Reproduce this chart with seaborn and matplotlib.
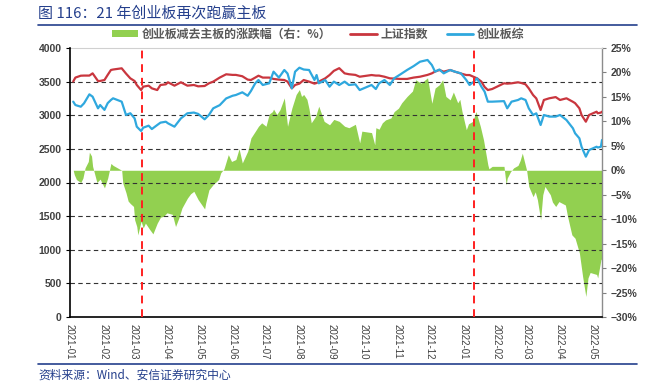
import matplotlib
matplotlib.use("Agg")
import matplotlib.pyplot as plt
import matplotlib.dates as mdates
from matplotlib.lines import Line2D
from matplotlib.patches import Patch
import seaborn as sns
import pandas as pd

# ---------------- data ----------------
line_dates = [
    "2021-01-04","2021-01-06","2021-01-11","2021-01-14","2021-01-19","2021-01-22","2021-01-27","2021-01-29",
    "2021-02-02","2021-02-05","2021-02-08","2021-02-10","2021-02-18","2021-02-22","2021-02-26",
    "2021-03-02","2021-03-04","2021-03-08","2021-03-10","2021-03-15","2021-03-18","2021-03-23","2021-03-26","2021-03-31",
    "2021-04-02","2021-04-08","2021-04-14","2021-04-20","2021-04-26","2021-04-30",
    "2021-05-06","2021-05-10","2021-05-14","2021-05-20","2021-05-26",
    "2021-06-01","2021-06-04","2021-06-10","2021-06-15","2021-06-18","2021-06-22","2021-06-25","2021-06-29",
    "2021-07-05","2021-07-09","2021-07-14","2021-07-19","2021-07-22","2021-07-26","2021-07-29",
    "2021-08-02","2021-08-06","2021-08-11","2021-08-16","2021-08-18","2021-08-20","2021-08-26","2021-08-30",
    "2021-09-03","2021-09-08","2021-09-13","2021-09-17","2021-09-23","2021-09-27",
    "2021-10-08","2021-10-12","2021-10-15","2021-10-20","2021-10-25","2021-10-29",
    "2021-11-04","2021-11-10","2021-11-16","2021-11-22","2021-11-29",
    "2021-12-03","2021-12-06","2021-12-10","2021-12-14","2021-12-20","2021-12-24","2021-12-30",
    "2022-01-04","2022-01-07","2022-01-11","2022-01-14","2022-01-18","2022-01-21","2022-01-24","2022-01-28",
    "2022-02-08","2022-02-11","2022-02-15","2022-02-21","2022-02-24","2022-02-28",
    "2022-03-03","2022-03-07","2022-03-10","2022-03-14","2022-03-17","2022-03-22","2022-03-28",
    "2022-04-01","2022-04-07","2022-04-13","2022-04-15","2022-04-19","2022-04-21","2022-04-25","2022-04-28",
    "2022-05-05","2022-05-06","2022-05-09","2022-05-10",
]
sse = [
    3502,3560,3588,3590,3590,3623,3509,3510,
    3524,3600,3673,3680,3698,3620,3549,
    3509,3450,3375,3425,3440,3400,3375,3450,3460,
    3490,3440,3490,3440,3450,3430,
    3435,3475,3500,3560,3609,
    3600,3600,3580,3530,3524,3560,3588,3560,
    3560,3540,3530,3524,3500,3400,3450,
    3470,3524,3500,3470,3480,3500,3549,3598,
    3660,3700,3623,3610,3600,3573,
    3598,3590,3590,3573,3549,3545,
    3540,3540,3560,3573,3600,
    3623,3650,3673,3648,3673,3650,3620,
    3598,3598,3570,3549,3500,3420,3375,3390,
    3475,3470,3475,3490,3480,3460,
    3400,3301,3250,3078,3227,3252,3270,
    3227,3252,3200,3180,3103,3004,2904,3004,
    3053,3029,3040,3053,
]
chinext = [
    3202,3152,3127,3177,3311,3276,3103,3152,
    3080,3180,3227,3252,3202,3004,3030,
    2954,2830,2766,2815,2845,2795,2855,2890,2904,
    2880,2830,2954,3029,3040,3020,
    2940,3004,3103,3150,3250,
    3290,3301,3341,3290,3360,3475,3524,3450,
    3475,3648,3560,3673,3620,3400,3648,
    3707,3680,3673,3524,3598,3475,3524,3425,
    3500,3450,3500,3450,3460,3375,
    3450,3390,3475,3524,3450,3549,
    3610,3673,3730,3796,3822,
    3747,3648,3680,3623,3673,3650,3623,
    3524,3450,3500,3549,3425,3351,3202,3202,
    3210,3103,3202,3227,3252,3227,
    3103,3004,3029,2855,3004,2980,2980,
    3004,2929,2806,2732,2657,2532,2384,2483,
    2532,2520,2532,2632,
]

diff_dates = [
    "2021-01-04","2021-01-05","2021-01-07","2021-01-11","2021-01-13","2021-01-15","2021-01-18","2021-01-19","2021-01-21","2021-01-22","2021-01-26","2021-01-29",
    "2021-02-02","2021-02-05","2021-02-08","2021-02-10","2021-02-18","2021-02-19","2021-02-22","2021-02-24","2021-02-26",
    "2021-03-01","2021-03-02","2021-03-04","2021-03-05","2021-03-08","2021-03-10","2021-03-12","2021-03-16","2021-03-19","2021-03-23","2021-03-26","2021-03-29",
    "2021-04-01","2021-04-06","2021-04-09","2021-04-12","2021-04-15","2021-04-20","2021-04-23","2021-04-26","2021-04-30",
    "2021-05-06","2021-05-07","2021-05-10","2021-05-14","2021-05-19","2021-05-21","2021-05-24","2021-05-28","2021-05-31",
    "2021-06-04","2021-06-07","2021-06-10","2021-06-15","2021-06-18","2021-06-23","2021-06-25","2021-06-28",
    "2021-07-02","2021-07-05","2021-07-08","2021-07-09","2021-07-12","2021-07-15","2021-07-19","2021-07-22","2021-07-26","2021-07-29","2021-07-30",
    "2021-08-02","2021-08-04","2021-08-06","2021-08-09","2021-08-11","2021-08-13","2021-08-17","2021-08-20","2021-08-25","2021-08-30",
    "2021-09-03","2021-09-08","2021-09-13","2021-09-17","2021-09-23","2021-09-27","2021-09-29",
    "2021-10-08","2021-10-11","2021-10-12","2021-10-15","2021-10-18","2021-10-21","2021-10-26","2021-10-29",
    "2021-11-02","2021-11-05","2021-11-10","2021-11-15","2021-11-18","2021-11-23","2021-11-29",
    "2021-12-03","2021-12-06","2021-12-10","2021-12-13","2021-12-16","2021-12-20","2021-12-23","2021-12-27","2021-12-29","2021-12-31",
    "2022-01-04","2022-01-06","2022-01-10","2022-01-13","2022-01-17","2022-01-20","2022-01-24","2022-01-25","2022-01-28",
    "2022-02-08","2022-02-10","2022-02-11","2022-02-14","2022-02-17","2022-02-21","2022-02-23","2022-02-25",
    "2022-03-01","2022-03-03","2022-03-07","2022-03-09","2022-03-11","2022-03-14","2022-03-16","2022-03-18","2022-03-23","2022-03-25","2022-03-28","2022-03-31",
    "2022-04-06","2022-04-08","2022-04-12","2022-04-15","2022-04-19","2022-04-22","2022-04-25","2022-04-27","2022-04-29",
    "2022-05-05","2022-05-06","2022-05-09","2022-05-10",
]
diff_pct = [
    0.0,-0.9,-1.9,-2.5,-1.6,0.5,1.8,3.7,2.9,0.8,-2.5,-1.8,
    -3.6,-1.6,1.4,1.0,0.0,-2.6,-4.6,-6.3,-6.8,
    -7.4,-10.1,-11.5,-13.2,-10.4,-11.8,-10.8,-12.1,-13.0,-10.8,-9.6,-9.4,
    -8.7,-9.0,-11.5,-9.8,-7.7,-5.7,-4.8,-4.3,-6.0,
    -7.9,-6.7,-4.0,-2.9,-1.9,-0.5,0.3,3.2,1.8,
    2.2,4.4,1.5,3.9,6.6,8.3,9.0,9.7,
    9.0,11.5,12.0,12.5,11.4,12.4,14.8,9.0,12.7,14.8,15.5,
    16.5,15.1,15.5,14.5,12.5,9.7,11.0,13.1,10.0,9.3,
    10.4,10.0,9.0,8.7,9.4,5.6,8.0,
    7.7,5.2,8.7,8.4,9.7,10.3,10.7,12.0,
    12.7,13.8,15.1,16.2,18.5,17.8,18.9,
    13.7,16.8,17.5,18.5,15.1,14.4,16.0,13.8,14.5,12.0,
    8.3,9.5,10.0,12.0,9.0,6.2,1.1,0.3,0.8,
    0.8,-3.0,-1.6,-0.3,0.5,1.0,2.0,3.5,
    0.0,-3.3,-5.4,-4.4,-6.0,-10.1,-5.0,-3.3,-5.0,-6.5,-7.4,-6.4,
    -7.1,-9.4,-13.2,-13.9,-16.9,-21.7,-25.8,-22.0,-20.9,
    -21.3,-22.0,-18.3,-18.0,
]

marker_dates = ["2021-03-09", "2022-01-11"]
left_ticks = [0, 500, 1000, 1500, 2000, 2500, 3000, 3500, 4000]
right_ticks = [-30, -25, -20, -15, -10, -5, 0, 5, 10, 15, 20, 25]

title = "图 116：21 年创业板再次跑赢主板"
source = "资料来源：Wind、安信证券研究中心"
label_diff = "创业板减去主板的涨跌幅（右：%）"
label_sse = "上证指数"
label_cy = "创业板综"

# ---------------- style ----------------
sns.set_style("white")
plt.rcParams['font.family'] = ['Liberation Sans', 'Noto Sans CJK SC', 'DejaVu Sans']
plt.rcParams['axes.unicode_minus'] = True

RED = "#C9363E"
BLUE = "#2FA8DE"
GREEN = "#92D050"
NAVY = "#243F8C"
TXT = "#404040"
CJK = ['Noto Sans CJK SC', 'DejaVu Sans']

lines_df = pd.DataFrame({
    "date": pd.to_datetime(line_dates),
    label_sse: sse,
    label_cy: chinext,
})
diff_df = pd.DataFrame({"date": pd.to_datetime(diff_dates), "pct": diff_pct})

fig = plt.figure(figsize=(6.6, 3.87), dpi=100)
fig.patch.set_facecolor("white")
ax = fig.add_axes([70/660, 1-317/387, (602-70)/660, (317-48)/387])
ax2 = ax.twinx()
ax.set_zorder(2)
ax2.set_zorder(1)
ax.patch.set_visible(False)
ax2.patch.set_visible(True)
ax2.patch.set_facecolor("white")

# green area on the right axis
ax2.fill_between(diff_df["date"], 0, diff_df["pct"], color=GREEN, lw=0, zorder=2)
ax2.set_ylim(-30, 25)
ax2.set_yticks(right_ticks)
ax2.set_yticklabels([f"{v}%".replace("-", "\u2212") for v in right_ticks])
ax2.set_axisbelow(True)
ax2.xaxis.grid(True, color="#DCDCDC", lw=0.9)
ax2.yaxis.grid(False)

# lines on the left axis
sns.lineplot(data=lines_df, x="date", y=label_sse, ax=ax, color=RED, lw=1.6, legend=False)
sns.lineplot(data=lines_df, x="date", y=label_cy, ax=ax, color=BLUE, lw=1.6, legend=False)
ax.set_ylim(0, 4000)
ax.set_yticks(left_ticks)
ax.set_xlabel("")
ax.set_ylabel("")
ax2.set_ylabel("")
ax.yaxis.grid(True, color="#333333", lw=0.8, ls=(0, (4, 3)))
ax.xaxis.grid(False)
for v, gl in zip(left_ticks, ax.yaxis.get_gridlines()):
    if v in (0, 4000):
        gl.set_visible(False)

for d in marker_dates:
    ax.axvline(pd.Timestamp(d), color="#FF2020", lw=1.4, ls=(0, (4, 3)), zorder=3)

ax.set_xlim(pd.Timestamp("2021-01-01"), pd.Timestamp("2022-05-10"))
ax.xaxis.set_major_locator(mdates.MonthLocator())
ax.xaxis.set_major_formatter(mdates.DateFormatter("%Y-%m"))
for lab in ax.get_xticklabels():
    lab.set_rotation(-90)
    lab.set_ha("center")
    lab.set_va("top")

ax.tick_params(axis="x", labelsize=7, colors="#404040", length=3, width=0.8, direction="out", pad=2)
ax.tick_params(axis="y", labelsize=7.5, colors=TXT, length=3, width=0.8, direction="out", pad=3)
ax2.tick_params(axis="y", labelsize=7.5, colors=TXT, length=3, width=0.8, direction="out", pad=3)
for lab in ax.get_yticklabels() + ax2.get_yticklabels():
    lab.set_fontweight("bold")
ax.tick_params(axis="both", color="black")
ax2.tick_params(axis="y", color="#808080")

for s in ("top", "right"):
    ax.spines[s].set_visible(False)
for s in ("left", "bottom"):
    ax.spines[s].set_color("black")
    ax.spines[s].set_linewidth(1.2)
ax2.spines["left"].set_visible(False)
ax2.spines["bottom"].set_visible(False)
ax2.spines["right"].set_color("#8C8C8C")
ax2.spines["right"].set_linewidth(1.0)
ax2.spines["top"].set_color("#D0D0D0")
ax2.spines["top"].set_linewidth(0.8)

# legend
handles = [
    Patch(facecolor=GREEN, edgecolor="none"),
    Line2D([0], [0], color=RED, lw=2),
    Line2D([0], [0], color=BLUE, lw=2),
]
leg = fig.legend(handles, [label_diff, label_sse, label_cy], loc="center",
                 bbox_to_anchor=(318/660, 1-34/387), ncol=3, frameon=False,
                 prop={"family": CJK, "size": 8.6, "weight": "bold"},
                 handlelength=2.2, handleheight=0.5, handletextpad=0.3,
                 columnspacing=1.6, borderaxespad=0)
for t in leg.get_texts():
    t.set_color("#595959")

# title, rules and source
fig.text(38/660, 1-14/387, title, color=NAVY, fontsize=10.8, va="center", ha="left",
         family=CJK)
fig.add_artist(Line2D([38/660, 637/660], [1-25/387, 1-25/387], color=NAVY, lw=1.2))
fig.add_artist(Line2D([38/660, 637/660], [1-364/387, 1-364/387], color=NAVY, lw=1.2))
fig.text(38/660, 1-375/387, source, color=NAVY, fontsize=8.5, va="center", ha="left",
         family=CJK)

fig.savefig("out.png", dpi=100, facecolor="white")
